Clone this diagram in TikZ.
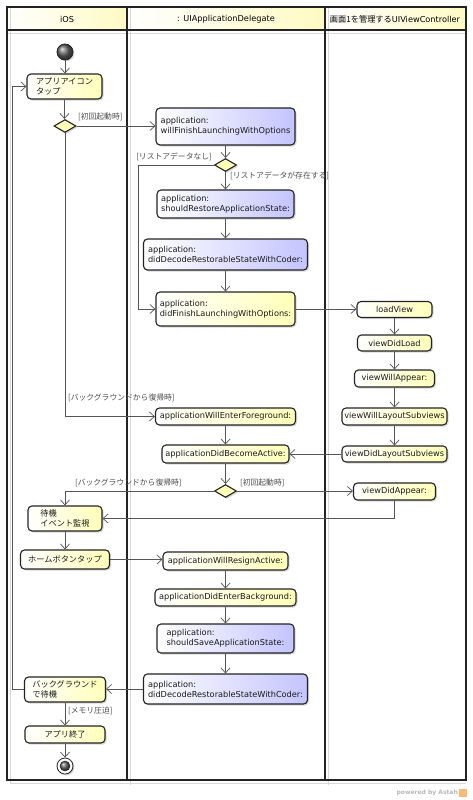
\documentclass[tikz,border=0pt]{standalone}
\usepackage{fontspec}
\setmainfont{DejaVu Sans}
\newfontfamily\jp{Noto Sans CJK JP}
\usetikzlibrary{arrows.meta,shapes.geometric,shadows}
\definecolor{yfill}{RGB}{255,255,185}
\definecolor{bfill}{RGB}{196,196,255}
\definecolor{hdr}{RGB}{255,250,195}
\definecolor{edge}{RGB}{35,35,35}
\definecolor{linec}{RGB}{85,85,85}
\definecolor{frameg}{RGB}{215,215,215}
\begin{document}
\begin{tikzpicture}[x=1pt,y=-1pt,
  txt/.style={font=\fontsize{8.2}{10}\selectfont},
  jtxt/.style={font=\jp\fontsize{8.2}{10}\selectfont},
  actbase/.style={draw=edge, line width=1.1pt, rounded corners=4pt, inner sep=0pt, align=left, text=black!90,
    drop shadow={shadow xshift=1.5pt, shadow yshift=-1.5pt, fill=black!35, opacity=0.45}},
  yact/.style={actbase, left color=white, right color=yfill},
  bact/.style={actbase, left color=white, right color=bfill},
  dec/.style={diamond, draw=edge, line width=1.1pt, fill=yfill, inner sep=0pt, minimum width=22pt, minimum height=13pt, aspect=1.7,
    drop shadow={shadow xshift=1.5pt, shadow yshift=-1.5pt, fill=black!35, opacity=0.45}},
  arr/.style={draw=linec, line width=0.7pt, -{Straight Barb[length=5pt,width=9pt]}},
  lbl/.style={font=\jp\fontsize{7.8}{9}\selectfont, text=black!70, inner sep=0pt},
  hdrcell/.style={left color=white, right color=hdr, draw=none}
]
\useasboundingbox (0,0) rectangle (473,800);
% ---------- swimlane frame ----------
\fill[hdrcell] (7,7) rectangle (127,30);
\fill[hdrcell] (127,7) rectangle (325,30);
\fill[hdrcell] (325,7) rectangle (466,30);
\draw[frameg, line width=0.8pt] (10,7) -- (10,783) -- (466,783);
\draw[frameg, line width=0.8pt] (130,7) -- (130,785);
\draw[frameg, line width=0.8pt] (328,7) -- (328,785);
\draw[frameg, line width=0.8pt] (7,33) -- (466,33);
\draw[edge, line width=1.3pt] (7,7) rectangle (466,780);
\draw[edge, line width=1.3pt] (127,7) -- (127,780);
\draw[edge, line width=1.3pt] (325,7) -- (325,780);
\draw[edge, line width=1.3pt] (7,30) -- (466,30);
\node[txt] (h1) at (67,19) {iOS};
\node[txt] (h2) at (226,19) {: UIApplicationDelegate};
\node[txt] (h3) at (395,19) {{\jp 画面1を管理する}UIViewController};
% ---------- iOS lane ----------
\node[circle, draw=edge, line width=0.8pt, ball color=black!60, minimum size=16pt, inner sep=0pt,
  drop shadow={shadow xshift=1.5pt, shadow yshift=-1.5pt, fill=black!35, opacity=0.45}] (init) at (65,52) {};
\node[yact, jtxt, minimum width=75pt, minimum height=25pt] (tap) at (64.5,86.5) {アプリアイコン\\タップ};
\node[dec] (d1) at (65,126) {};
\node[yact, jtxt, minimum width=74pt, minimum height=25pt] (wait) at (65,518.5) {待機\\イベント監視};
\node[yact, jtxt, minimum width=89pt, minimum height=19pt] (home) at (65,559.5) {ホームボタンタップ};
\node[yact, jtxt, minimum width=81pt, minimum height=25pt] (bg) at (65,689.5) {バックグラウンド\\で待機};
\node[yact, jtxt, minimum width=80pt, minimum height=17pt] (term) at (65,734.5) {アプリ終了};
\node[circle, draw=edge, line width=0.8pt, fill=white, minimum size=16pt, inner sep=0pt,
  drop shadow={shadow xshift=1.5pt, shadow yshift=-1.5pt, fill=black!35, opacity=0.45}] (fin) at (65,766) {};
\node[circle, draw=edge, line width=0.5pt, ball color=black!60, minimum size=10pt, inner sep=0pt] (finin) at (fin.center) {};
% ---------- delegate lane ----------
\node[bact, txt, minimum width=139pt, minimum height=37pt] (wf) at (225.5,126.5) {application:\\willFinishLaunchingWithOptions};
\node[dec] (d2) at (225.5,165) {};
\node[bact, txt, minimum width=137pt, minimum height=28pt] (sr) at (225.5,204) {application:\\shouldRestoreApplicationState:};
\node[bact, txt, minimum width=164pt, minimum height=31pt] (dd1) at (225.5,254.5) {application:\\didDecodeRestorableStateWithCoder:};
\node[yact, txt, minimum width=139pt, minimum height=34pt] (df) at (225.5,309) {application:\\didFinishLaunchingWithOptions:};
\node[yact, txt, minimum width=140pt, minimum height=17pt] (wef) at (225.5,416.5) {applicationWillEnterForeground:};
\node[yact, txt, minimum width=127pt, minimum height=18pt] (dba) at (225.5,454) {applicationDidBecomeActive:};
\node[dec] (d3) at (225.5,491) {};
\node[yact, txt, minimum width=125pt, minimum height=18pt] (wra) at (225.5,561) {applicationWillResignActive:};
\node[yact, txt, minimum width=141pt, minimum height=17pt] (deb) at (225.5,597.5) {applicationDidEnterBackground:};
\node[bact, txt, minimum width=137pt, minimum height=29pt] (ssa) at (225.5,638.5) {application:\\shouldSaveApplicationState:};
\node[bact, txt, minimum width=164pt, minimum height=30pt] (dd2) at (225.5,689) {application:\\didDecodeRestorableStateWithCoder:};
% ---------- view controller lane ----------
\node[yact, txt, minimum width=75pt, minimum height=16pt] (lv) at (394.5,309.5) {loadView};
\node[yact, txt, minimum width=74pt, minimum height=16pt] (vdl) at (394.5,343) {viewDidLoad};
\node[yact, txt, minimum width=80pt, minimum height=17pt] (vwa) at (394.5,378.5) {viewWillAppear:};
\node[yact, txt, minimum width=105pt, minimum height=17pt] (vwls) at (394.5,416.5) {viewWillLayoutSubviews};
\node[yact, txt, minimum width=105pt, minimum height=16pt] (vdls) at (394.5,454) {viewDidLayoutSubviews};
\node[yact, txt, minimum width=82pt, minimum height=17pt] (vda) at (394.5,491.5) {viewDidAppear:};
% ---------- helper coordinates ----------
\coordinate (k1) at (138,0);
\coordinate (k2) at (12,0);
% ---------- connectors ----------
\draw[arr] (init.south) -- (init.south |- tap.north);
\draw[arr] (tap.south) -- (tap.south |- d1.north);
\draw[arr] (d1.east) -- (d1.east -| wf.west);
\draw[arr] (d1.south) |- (wef.west);
\draw[arr] (wf.south) -- (d2.north);
\draw[arr] (d2.south) -- (sr.north);
\draw[arr] (sr.south) -- (dd1.north);
\draw[arr] (dd1.south) -- (df.north);
\draw[arr] (d2.west) -| (k1 |- df.west) -- (df.west);
\draw[arr] (df.east) -- (df.east -| lv.west);
\draw[arr] (lv.south) -- (vdl.north);
\draw[arr] (vdl.south) -- (vwa.north);
\draw[arr] (vwa.south) -- (vwls.north);
\draw[arr] (vwls.south) -- (vdls.north);
\draw[arr] (vdls.west) -- (vdls.west -| dba.east);
\draw[arr] (wef.south) -- (dba.north);
\draw[arr] (dba.south) -- (d3.north);
\draw[arr] (d3.west) -| (wait.north);
\draw[arr] (d3.east) -- (d3.east -| vda.west);
\draw[arr] (vda.south) |- (wait.east);
\draw[arr] (wait.south) -- (home.north);
\draw[arr] (home.east) -- (home.east -| wra.west);
\draw[arr] (wra.south) -- (deb.north);
\draw[arr] (deb.south) -- (ssa.north);
\draw[arr] (ssa.south) -- (dd2.north);
\draw[arr] (dd2.west) -- (dd2.west -| bg.east);
\draw[arr] (bg.west) -| (k2 |- tap.west) -- (tap.west);
\draw[arr] (bg.south) -- (term.north);
\draw[arr] (term.south) -- (fin.north);
% ---------- guard labels ----------
\node[lbl, anchor=west] (g1) at (78,117) {[初回起動時]};
\node[lbl, anchor=east] (g2) at (212,157) {[リストアデータなし]};
\node[lbl, anchor=west] (g3) at (230,176) {[リストアデータが存在する]};
\node[lbl, anchor=west] (g4) at (68,398) {[バックグラウンドから復帰時]};
\node[lbl, anchor=west] (g5) at (75,483) {[バックグラウンドから復帰時]};
\node[lbl, anchor=west] (g6) at (240,483) {[初回起動時]};
\node[lbl, anchor=west] (g7) at (68,711) {[メモリ圧迫]};
% ---------- footer ----------
\node[font=\bfseries\fontsize{6}{7}\selectfont, text=black!28, anchor=east, inner sep=0pt] (pw) at (458,793) {powered by Astah};
\fill[orange!55] (459,789) rectangle (467,797);
\end{tikzpicture}
\end{document}
